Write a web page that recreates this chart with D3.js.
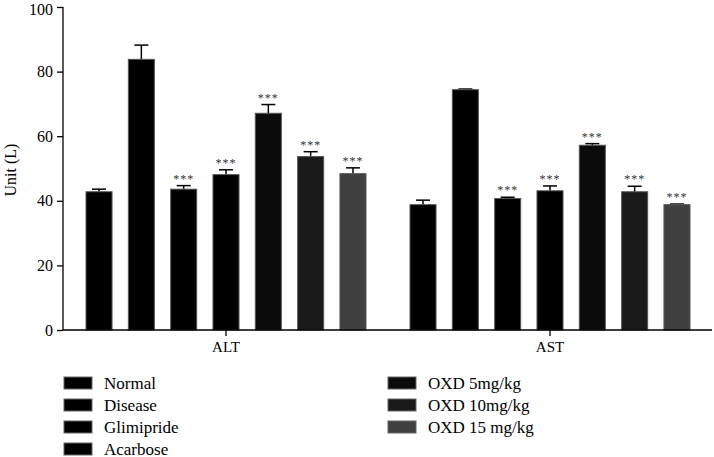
<!DOCTYPE html>
<html><head><meta charset="utf-8">
<script src="https://cdn.jsdelivr.net/npm/d3@7"></script>
<style>body{margin:0;background:#fff}svg{display:block}text{font-family:"Liberation Serif","Times New Roman",serif}</style>
</head><body><svg id="c" width="714" height="457"></svg>
<script>
const categories = ["ALT", "AST"];
const groups = ["Normal", "Disease", "Glimipride", "Acarbose", "OXD 5mg/kg", "OXD 10mg/kg", "OXD 15 mg/kg"];
const colors = ["#000000", "#000000", "#000000", "#000000", "#0b0b0b", "#1a1a1a", "#404040"];
const altValues = [42.8, 83.8, 43.6, 48.1, 67.1, 53.7, 48.4];
const altErrors = [0.8, 4.4, 1.1, 1.5, 2.7, 1.5, 1.8];
const astValues = [38.8, 74.4, 40.7, 43.1, 57.2, 42.8, 38.8];
const astErrors = [1.4, 0.2, 0.4, 1.5, 0.5, 1.7, 0.2];
const significant = [false, false, true, true, true, true, true];
const yTicks = [0, 20, 40, 60, 80, 100];

const svg = d3.select("#c");
const y = d3.scaleLinear().domain([0, 100]).range([330, 7]);
const x0 = d3.scaleBand().domain(categories).range([64, 712]);
const x1 = d3.scaleBand().domain(groups).range([0, x0.bandwidth()]).paddingInner(0.385).paddingOuter(0.52);

const data = categories.map((c, i) => ({cat: c, vals: (i === 0 ? altValues : astValues), errs: (i === 0 ? altErrors : astErrors)}));

const g = svg.append("g");
data.forEach(d => {
  const gg = g.append("g").attr("transform", `translate(${x0(d.cat)},0)`);
  groups.forEach((grp, j) => {
    const v = d.vals[j], e = d.errs[j];
    const bx = x1(grp), bw = x1.bandwidth(), cx = bx + bw / 2;
    gg.append("line").attr("x1", cx).attr("x2", cx).attr("y1", y(v)).attr("y2", y(v + e)).attr("stroke", "#000").attr("stroke-width", 1.5);
    gg.append("line").attr("x1", cx - 7).attr("x2", cx + 7).attr("y1", y(v + e)).attr("y2", y(v + e)).attr("stroke", "#000").attr("stroke-width", 1.5);
    gg.append("rect").attr("x", bx).attr("y", y(v)).attr("width", bw).attr("height", y(0) - y(v))
      .attr("fill", colors[j]).attr("stroke", "#555").attr("stroke-width", 1);
    if (significant[j]) {
      gg.append("text").attr("x", cx).attr("y", y(v + e) - 3).attr("text-anchor", "middle")
        .attr("font-size", 12).attr("fill", "#333").attr("letter-spacing", "1").text("***");
    }
  });
});

const yAxis = d3.axisLeft(y).tickValues(yTicks).tickSize(6).tickPadding(4);
const ya = svg.append("g").attr("transform", "translate(63,0)").call(yAxis);
ya.selectAll("text").attr("font-size", 16).attr("fill", "#000").style("font-family", '"Liberation Serif",serif');
ya.selectAll("text").filter(d => d === 100).attr("dy", "0.47em");
ya.selectAll("line,path").attr("stroke", "#000").attr("stroke-width", 1.3);
ya.select(".domain").attr("d", "M0,330V7");

const xAxis = d3.axisBottom(x0).tickSize(6).tickPadding(5).tickSizeOuter(0);
const xa = svg.append("g").attr("transform", "translate(0,330)").call(xAxis);
xa.selectAll("text").attr("font-size", 15).attr("fill", "#000").style("font-family", '"Liberation Serif",serif');
xa.selectAll("line,path").attr("stroke", "#000").attr("stroke-width", 1.3);
xa.select(".domain").attr("d", "M63,0H712");

svg.append("text").attr("transform", "translate(16,170) rotate(-90)").attr("text-anchor", "middle")
  .attr("font-size", 16).attr("fill", "#000").text("Unit (L)");

const legendCols = [{x: 64, items: [0, 1, 2, 3]}, {x: 388, items: [4, 5, 6]}];
legendCols.forEach(col => {
  col.items.forEach((j, r) => {
    const yy = 377 + r * 22;
    svg.append("rect").attr("x", col.x).attr("y", yy).attr("width", 28).attr("height", 12)
      .attr("fill", colors[j]).attr("stroke", "#666").attr("stroke-width", 1);
    svg.append("text").attr("x", col.x + 40).attr("y", yy + 11.5).attr("font-size", 17).attr("fill", "#000").text(groups[j]);
  });
});
</script></body></html>
